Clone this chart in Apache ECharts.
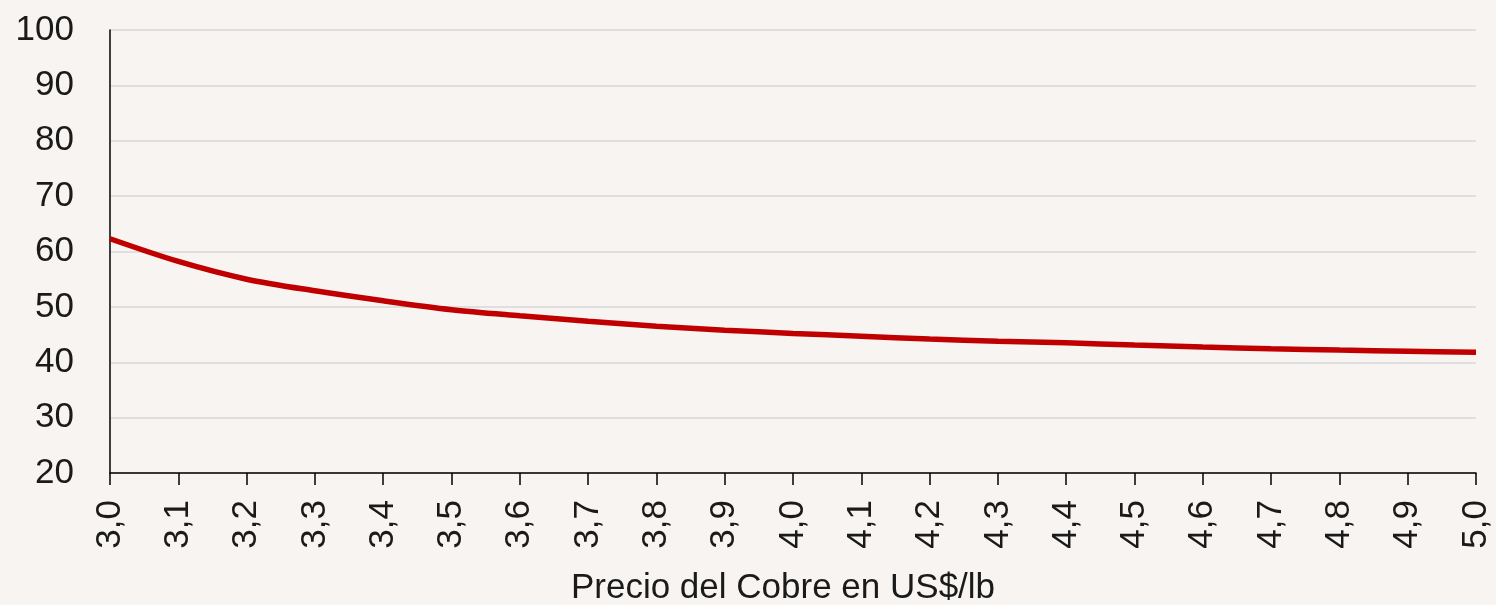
<!doctype html>
<html lang="es">

<head>
  <meta charset="utf-8">
  <title>Precio del Cobre</title>
  <script src="https://cdn.jsdelivr.net/npm/echarts@6/dist/echarts.min.js"></script>
  <style>
    html, body {
      margin: 0;
      padding: 0;
      background: #f7f4f1;
    }
    #chart {
      width: 1496px;
      height: 605px;
    }
  </style>
</head>

<body>
  <div id="chart"></div>
  <script>
    // precio del cobre (US$/lb)
    const precios = ["3,0", "3,1", "3,2", "3,3", "3,4", "3,5", "3,6", "3,7", "3,8", "3,9", "4,0",
      "4,1", "4,2", "4,3", "4,4", "4,5", "4,6", "4,7", "4,8", "4,9", "5,0"];
    const valores = [62.3, 58.2, 55.0, 52.9, 51.1, 49.5, 48.4, 47.4, 46.5, 45.8, 45.2,
      44.7, 44.2, 43.8, 43.5, 43.1, 42.75, 42.45, 42.2, 42.0, 41.8];

    const fuente = "'Liberation Sans', Arial, sans-serif";
    const chart = echarts.init(document.getElementById("chart"));
    chart.setOption({
      backgroundColor: "#f7f4f1",
      animation: false,
      grid: {
        left: 110,
        right: 20,
        top: 30,
        bottom: 132,
        outerBoundsMode: "none"
      },
      xAxis: {
        type: "category",
        data: precios,
        boundaryGap: false,
        name: "Precio del Cobre en US$/lb",
        nameLocation: "middle",
        nameGap: 98,
        nameTextStyle: {
          fontFamily: fuente,
          fontSize: 35,
          color: "#1a1a1a",
          padding: [0, 20, 0, 0]
        },
        axisLine: {
          lineStyle: { color: "#000", width: 1.5 }
        },
        axisTick: {
          alignWithLabel: true,
          length: 12,
          lineStyle: { color: "#000", width: 1.5 }
        },
        axisLabel: {
          rotate: 90,
          margin: 27,
          interval: 0,
          fontFamily: fuente,
          fontSize: 35,
          color: "#1a1a1a"
        },
        splitLine: { show: false }
      },
      yAxis: {
        type: "value",
        min: 20,
        max: 100,
        interval: 10,
        axisLine: {
          show: true,
          lineStyle: { color: "#000", width: 1.5 }
        },
        axisTick: { show: false },
        axisLabel: {
          margin: 36,
          fontFamily: fuente,
          fontSize: 35,
          color: "#1a1a1a"
        },
        splitLine: {
          lineStyle: { color: "#d9d9d9", width: 1.5 }
        }
      },
      series: [{
        type: "line",
        data: valores,
        smooth: 0.3,
        symbol: "none",
        lineStyle: { color: "#c00000", width: 5.5 }
      }]
    });
  </script>
</body>

</html>
